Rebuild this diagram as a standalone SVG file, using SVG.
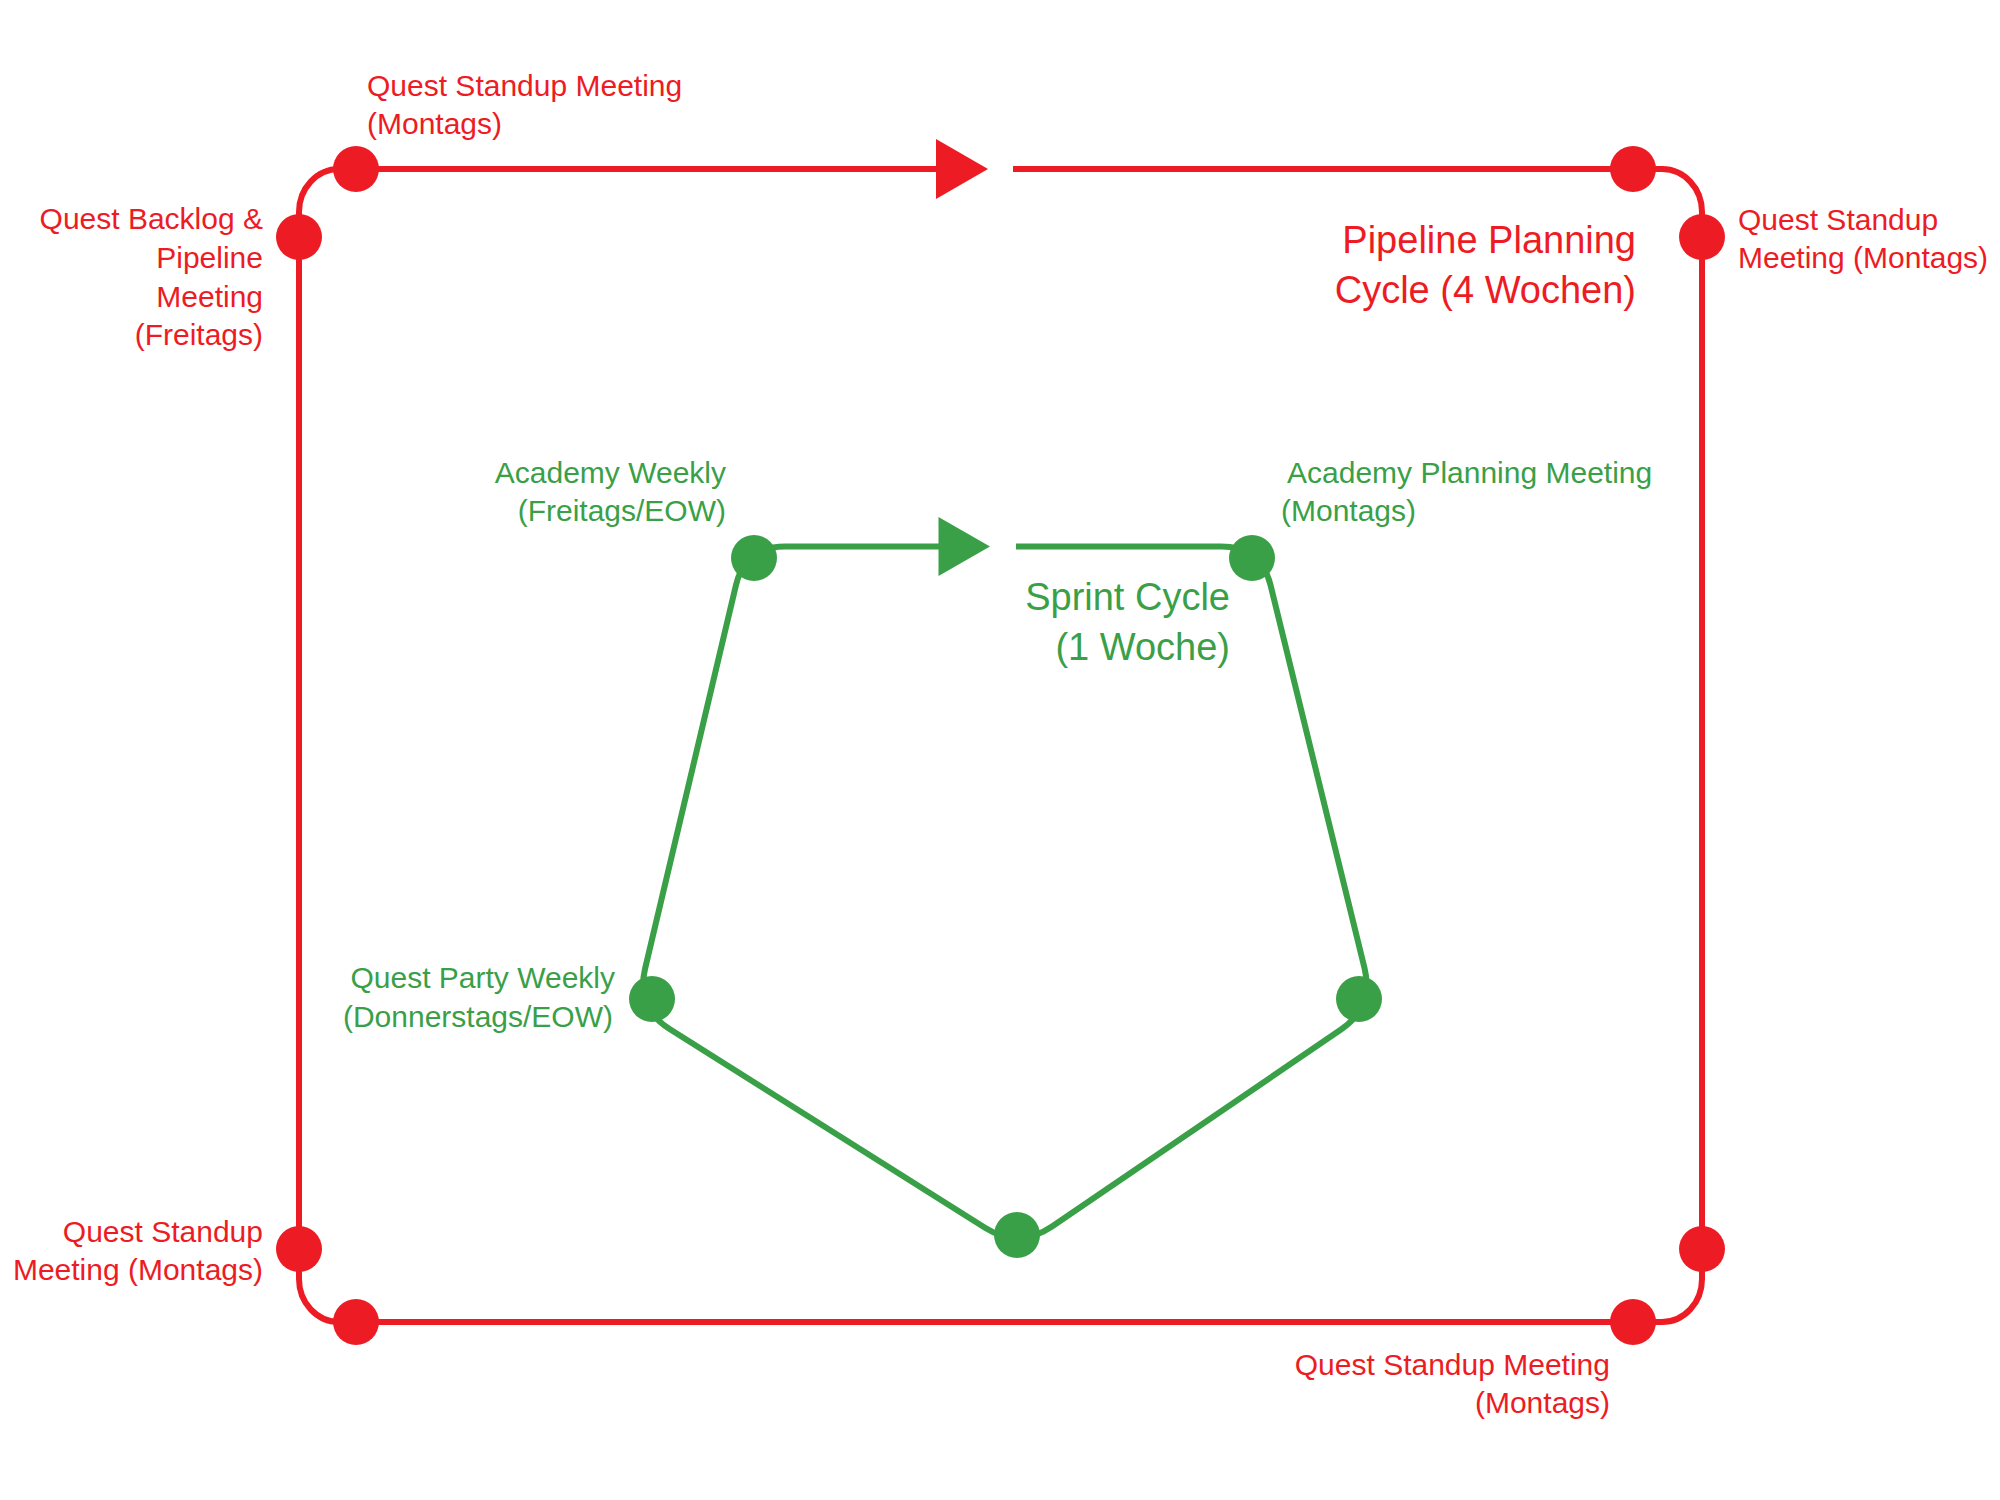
<svg xmlns="http://www.w3.org/2000/svg" width="2000" height="1500" viewBox="0 0 2000 1500">
<style>
.bg{fill:#ffffff}
.rl{fill:none;stroke:#ED1C24;stroke-width:6}
.gl{fill:none;stroke:#3AA048;stroke-width:6}
.rd{fill:#ED1C24}
.gd{fill:#3AA048}
text{font-family:"Liberation Sans",Arial,sans-serif;font-size:30px}
.rt{fill:#ED1C24}
.gt{fill:#3AA048}
.big{font-size:38px}
.e{text-anchor:end}
</style>
<rect class="bg" x="0" y="0" width="2000" height="1500"/>
<g id="connectors">
<path id="red-cycle" class="rl" d="M 1013,169 H 1662 A 40 43 0 0 1 1702,212 V 1279 A 40 43 0 0 1 1662,1322 H 339 A 40 43 0 0 1 299,1279 V 212 A 40 43 0 0 1 339,169 H 937"/>
<polygon id="red-arrow" class="rd" points="936,139 988,169 936,199"/>
<path id="green-cycle" class="gl" d="M 1016,546.5 H 1221 Q 1261,546.5 1270.5,585 L 1364.5,968 Q 1374,1007 1341,1029.5 L 1052,1226.5 Q 1019,1249 985,1227.7 L 670,1029.3 Q 636,1008 645,969 L 736,585 Q 745,546.5 785,546.5 H 940"/>
<polygon id="green-arrow" class="gd" points="938.5,517 990,546.5 938.5,576"/>
</g>
<g id="red-nodes">
<g id="r-top-left"><circle class="rd" cx="356" cy="169" r="23"/></g>
<g id="r-left-top"><circle class="rd" cx="299" cy="237" r="23"/></g>
<g id="r-top-right"><circle class="rd" cx="1633" cy="169" r="23"/></g>
<g id="r-right-top"><circle class="rd" cx="1702" cy="237" r="23"/></g>
<g id="r-left-bottom"><circle class="rd" cx="299" cy="1249" r="23"/></g>
<g id="r-bottom-left"><circle class="rd" cx="356" cy="1322" r="23"/></g>
<g id="r-bottom-right"><circle class="rd" cx="1633" cy="1322" r="23"/></g>
<g id="r-right-bottom"><circle class="rd" cx="1702" cy="1249" r="23"/></g>
</g>
<g id="green-nodes">
<g id="g-top-left"><circle class="gd" cx="754" cy="558" r="23"/></g>
<g id="g-top-right"><circle class="gd" cx="1252" cy="558" r="23"/></g>
<g id="g-left"><circle class="gd" cx="652" cy="999" r="23"/></g>
<g id="g-right"><circle class="gd" cx="1359" cy="999" r="23"/></g>
<g id="g-bottom"><circle class="gd" cx="1017" cy="1235" r="23"/></g>
</g>
<g id="labels">
<text class="rt" x="367" y="96">Quest Standup Meeting</text>
<text class="rt" x="367" y="134">(Montags)</text>
<text class="rt e" x="263" y="229">Quest Backlog &amp;</text>
<text class="rt e" x="263" y="268">Pipeline</text>
<text class="rt e" x="263" y="307">Meeting</text>
<text class="rt e" x="263" y="345">(Freitags)</text>
<text class="rt" x="1738" y="230">Quest Standup</text>
<text class="rt" x="1738" y="268">Meeting (Montags)</text>
<text class="rt big e" x="1636" y="253">Pipeline Planning</text>
<text class="rt big e" x="1636" y="303">Cycle (4 Wochen)</text>
<text class="rt e" x="263" y="1242">Quest Standup</text>
<text class="rt e" x="263" y="1280">Meeting (Montags)</text>
<text class="rt e" x="1610" y="1375">Quest Standup Meeting</text>
<text class="rt e" x="1610" y="1413">(Montags)</text>
<text class="gt e" x="726" y="483">Academy Weekly</text>
<text class="gt e" x="726" y="521">(Freitags/EOW)</text>
<text class="gt" x="1287" y="483">Academy Planning Meeting</text>
<text class="gt" x="1281" y="521">(Montags)</text>
<text class="gt e" x="615" y="988">Quest Party Weekly</text>
<text class="gt e" x="613" y="1027">(Donnerstags/EOW)</text>
<text class="gt big e" x="1230" y="610">Sprint Cycle</text>
<text class="gt big e" x="1230" y="660">(1 Woche)</text>
</g>
</svg>
